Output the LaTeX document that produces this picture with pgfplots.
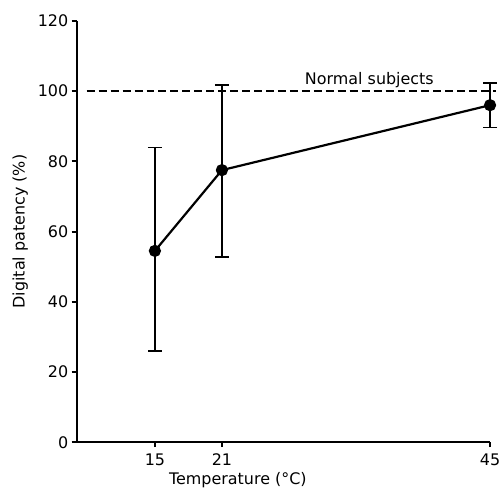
\documentclass[border=0pt]{standalone}
\usepackage{fontspec}
\setmainfont{DejaVu Sans}
\usepackage{pgfplots}
\pgfplotsset{compat=1.18}

\begin{document}
\begin{tikzpicture}
\begin{axis}[
    scale only axis,
    width=415pt,
    height=423pt,
    xmin=8, xmax=45,
    ymin=0, ymax=120,
    axis lines=left,
    axis line style={-, line width=2pt},
    clip=false,
    xtick={15,21,45},
    ytick={0,20,...,120},
    tick align=outside,
    major tick length=5pt,
    tick style={line width=2pt, black},
    font=\fontsize{16}{18}\selectfont,
    tick label style={font=\fontsize{16}{18}\selectfont},
    xticklabel style={yshift=-3pt},
    /pgf/number format/assume math mode=true,
    xlabel={Temperature (°C)},
    ylabel={Digital patency (\%)},
    xlabel style={at={(rel axis cs:0.39,0)}, anchor=north, yshift=-30pt, inner sep=0pt},
    ylabel style={yshift=3pt},
]
\coordinate (sw) at (rel axis cs:0,0);
\coordinate (ne) at (rel axis cs:1,1);
% normal subjects reference
\addplot[draw=black, dash pattern=on 8pt off 4pt, line width=2pt] coordinates {(8.9,100) (45.5,100)};
\node[anchor=south, inner sep=3pt] at (axis cs:34.2,100) {Normal subjects};

\addplot[black, line width=2.2pt, mark=*, mark size=5pt,
    error bars/.cd, y dir=both, y explicit,
    error bar style={line width=1.5pt},
    error mark options={rotate=90, mark size=7pt, line width=1.6pt}]
    coordinates {
    (15,54.5) += (0,29.5) -= (0,28.5)
    (21,77.5) += (0,24.3) -= (0,24.8)
    (45,96) += (0,6.3) -= (0,6.4)
};
\end{axis}
\pgfresetboundingbox
\path ([shift={(-77pt,-51pt)}]sw) rectangle ([shift={(11pt,21pt)}]ne);
\end{tikzpicture}
\end{document}
